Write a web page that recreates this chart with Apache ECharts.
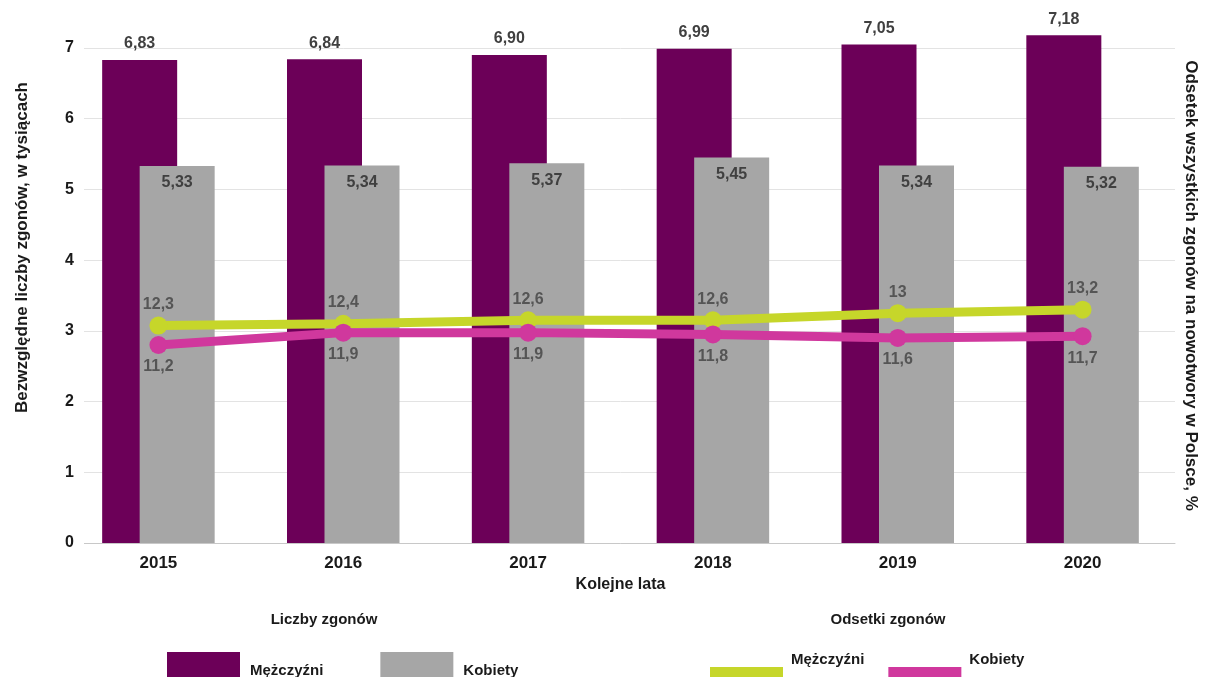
<!DOCTYPE html>
<html>
<head>
<meta charset="utf-8">
<script src="https://cdn.jsdelivr.net/npm/echarts@6/dist/echarts.min.js"></script>
<style>
  html, body { margin: 0; padding: 0; background: #fff; }
  #chart { width: 1207px; height: 677px; }
</style>
</head>
<body>
<div id="chart"></div>
<script>
// dane
const years = ['2015', '2016', '2017', '2018', '2019', '2020'];
const zgonyMezczyzni = [6.83, 6.84, 6.90, 6.99, 7.05, 7.18]; // tys.
const zgonyKobiety = [5.33, 5.34, 5.37, 5.45, 5.34, 5.32];
const odsetekMezczyzni = [12.3, 12.4, 12.6, 12.6, 13, 13.2]; // %
const odsetekKobiety = [11.2, 11.9, 11.9, 11.8, 11.6, 11.7];
const leftTicks = [0, 1, 2, 3, 4, 5, 6, 7];

const FONT = '"Liberation Sans", Arial, sans-serif';
const fmt2 = v => v.toFixed(2).replace('.', ',');
const fmt1 = v => String(v).replace('.', ',');

const chart = echarts.init(document.getElementById('chart'));

const option = {
  backgroundColor: '#fff',
  textStyle: { fontFamily: FONT },
  animation: false,
  grid: { left: 66, right: 29, top: 48, bottom: 134 },
  title: [
    { text: 'Liczby zgonów', left: 319, top: 607, textAlign: 'center',
      textStyle: { fontSize: 15, fontWeight: 'bold', color: '#1a1a1a', fontFamily: FONT } },
    { text: 'Odsetki zgonów', left: 883, top: 607, textAlign: 'center',
      textStyle: { fontSize: 15, fontWeight: 'bold', color: '#1a1a1a', fontFamily: FONT } }
  ],
  legend: [
    {
      data: ['Liczby: Mężczyźni', 'Liczby: Kobiety'],
      left: 167, top: 652, padding: 0,
      itemWidth: 73, itemHeight: 38, itemGap: 57,
      icon: 'rect',
      formatter: n => n.split(': ')[1],
      textStyle: { fontSize: 15, fontWeight: 'bold', color: '#1a1a1a', padding: [0, 0, 0, 5] }
    },
    {
      // tekst nad środkiem prostokąta, jak w oryginale
      data: ['Odsetki: Mężczyźni', 'Odsetki: Kobiety'],
      left: 710, top: 643, padding: 0,
      itemWidth: 73, itemHeight: 20, itemGap: 24,
      icon: 'rect',
      formatter: n => n.split(': ')[1] + '\n ',
      textStyle: { fontSize: 15, fontWeight: 'bold', color: '#1a1a1a', lineHeight: 34, padding: [0, 0, 0, 3] }
    }
  ],
  xAxis: {
    type: 'category',
    data: years,
    name: 'Kolejne lata',
    nameLocation: 'middle',
    nameGap: 28,
    nameTextStyle: { fontSize: 16, fontWeight: 'bold', color: '#1a1a1a' },
    axisLine: { lineStyle: { color: '#c8c8c8' } },
    axisTick: { show: false },
    axisLabel: { fontSize: 17, fontWeight: 'bold', color: '#1a1a1a', margin: 12 }
  },
  yAxis: [
    {
      type: 'value',
      min: leftTicks[0],
      max: leftTicks[leftTicks.length - 1],
      interval: 1,
      name: 'Bezwzględne liczby zgonów, w tysiącach',
      nameLocation: 'middle',
      nameRotate: 90,
      nameGap: 35,
      nameTextStyle: { fontSize: 17, fontWeight: 'bold', color: '#1a1a1a', padding: [0, 0, 0, 96] },
      axisLine: { show: false },
      axisTick: { show: false },
      axisLabel: {
        fontSize: 16, fontWeight: 'bold', color: '#1a1a1a',
        margin: -18, backgroundColor: '#fff', padding: [2, 10, 2, 2]
      },
      splitLine: { lineStyle: { color: '#e3e3e3' } }
    },
    {
      type: 'value',
      min: 0,
      max: 28,
      interval: 4,
      position: 'right',
      name: 'Odsetek wszystkich zgonów na nowotwory w Polsce, %',
      nameLocation: 'middle',
      nameRotate: -90,
      nameGap: 7,
      nameTextStyle: { fontSize: 17, fontWeight: 'bold', color: '#1a1a1a', padding: [0, 20, 0, 0] },
      axisLine: { show: false },
      axisTick: { show: false },
      axisLabel: { show: false },
      splitLine: { show: false }
    }
  ],
  series: [
    {
      name: 'Liczby: Mężczyźni',
      type: 'bar',
      data: zgonyMezczyzni,
      clip: false,
      barWidth: 75,
      barGap: '-50%',
      itemStyle: { color: '#6c0058' },
      label: {
        show: true, position: 'top', distance: 8,
        formatter: p => fmt2(p.value),
        fontSize: 16, fontWeight: 'bold', color: '#404040'
      }
    },
    {
      name: 'Liczby: Kobiety',
      type: 'bar',
      data: zgonyKobiety,
      clip: false,
      barWidth: 75,
      itemStyle: { color: '#a6a6a6' },
      label: {
        show: true, position: 'insideTop', distance: 9,
        formatter: p => fmt2(p.value),
        fontSize: 16, fontWeight: 'bold', color: '#404040'
      }
    },
    {
      name: 'Odsetki: Mężczyźni',
      type: 'line',
      yAxisIndex: 1,
      data: odsetekMezczyzni,
      symbol: 'circle',
      symbolSize: 18,
      lineStyle: { width: 9, color: '#c6d62a' },
      itemStyle: { color: '#c6d62a' },
      label: {
        show: true, position: 'top', distance: 4,
        formatter: p => fmt1(p.value),
        fontSize: 16, fontWeight: 'bold', color: '#555'
      }
    },
    {
      name: 'Odsetki: Kobiety',
      type: 'line',
      yAxisIndex: 1,
      data: odsetekKobiety,
      symbol: 'circle',
      symbolSize: 18,
      lineStyle: { width: 9, color: '#d0389d' },
      itemStyle: { color: '#d0389d' },
      label: {
        show: true, position: 'bottom', distance: 5,
        formatter: p => fmt1(p.value),
        fontSize: 16, fontWeight: 'bold', color: '#555'
      }
    }
  ]
};

chart.setOption(option);
window.addEventListener('resize', () => chart.resize());
</script>
</body>
</html>
